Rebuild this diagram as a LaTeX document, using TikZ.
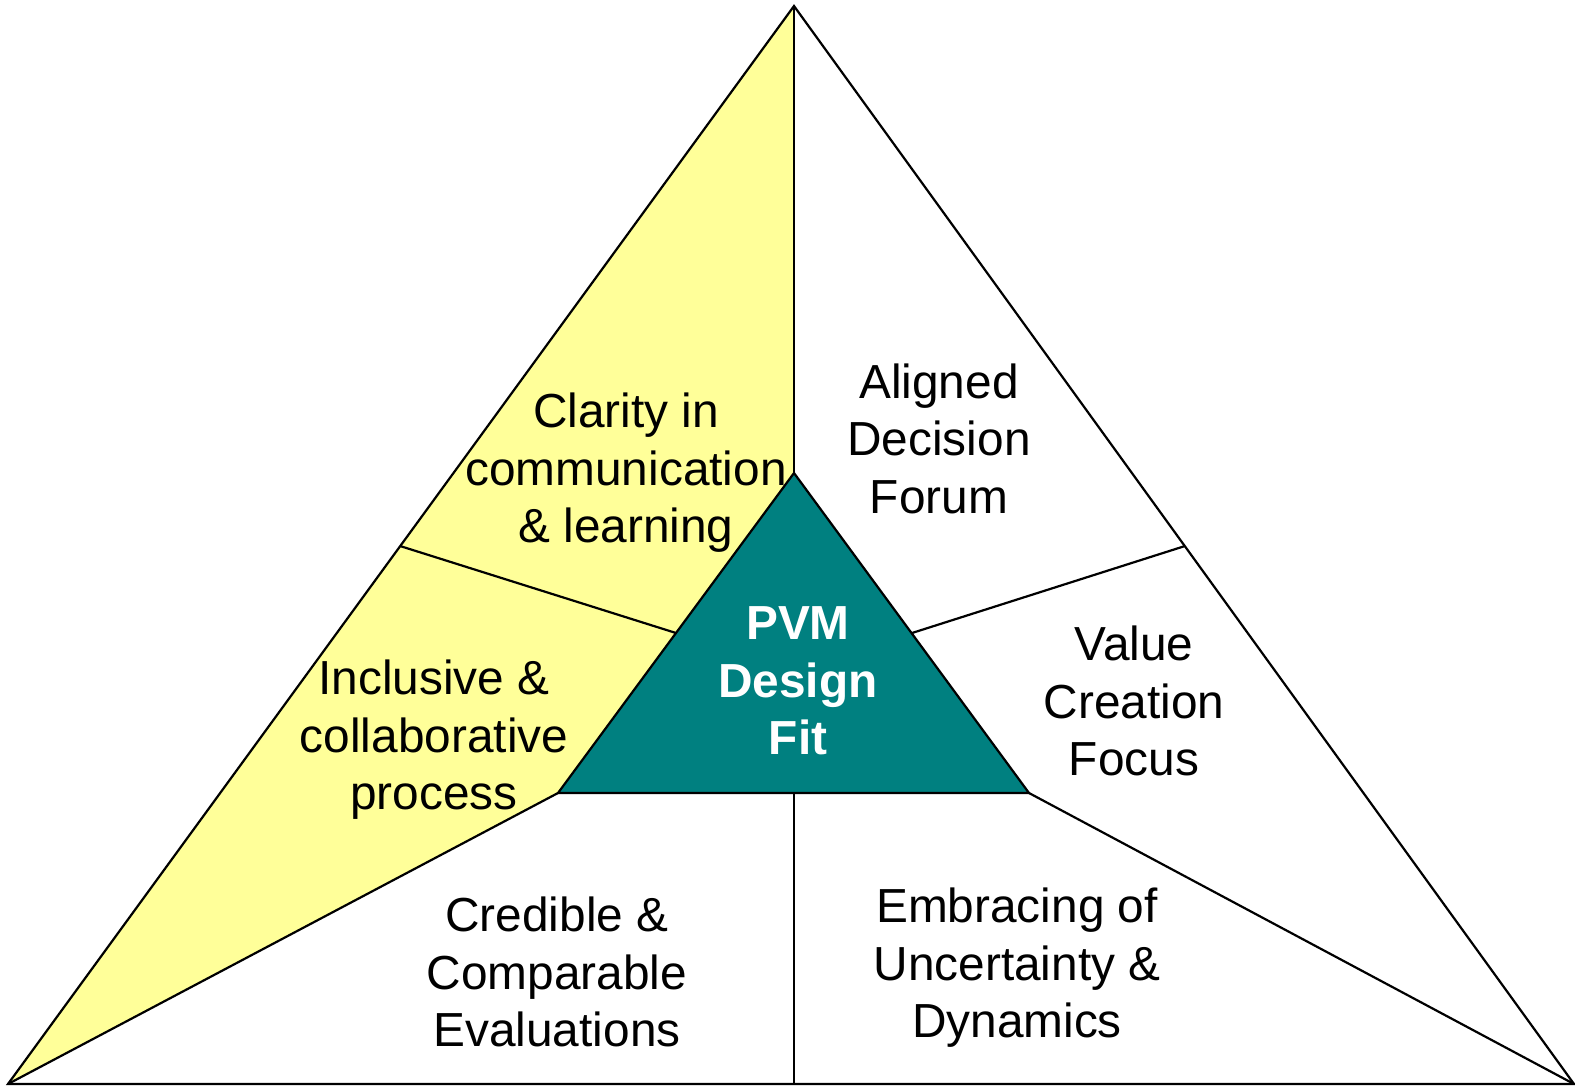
\documentclass[tikz,border=0pt]{standalone}
\usepackage{fontspec}
\setmainfont{Liberation Sans}
\definecolor{pvmyellow}{HTML}{FFFF99}
\definecolor{pvmteal}{HTML}{008080}
\begin{document}
\begin{tikzpicture}[x=1pt,y=-1pt,
  edge/.style={draw=black, line width=2.2pt, line join=miter},
  lab/.style={align=center, inner sep=0pt, font=\fontsize{47.8}{57.5}\selectfont},
  core/.style={align=center, inner sep=0pt, text=white, font=\fontsize{47.8}{57.5}\selectfont\bfseries}]
\useasboundingbox (0,0) rectangle (1575,1087);
% vertices
\coordinate (A) at (794,6);
\coordinate (BL) at (8,1084);
\coordinate (BR) at (1574,1084);
\coordinate (ia) at (794,473);
\coordinate (ibl) at (558,793);
\coordinate (ibr) at (1029,793);
\coordinate (ib) at (794,793);
\coordinate (ob) at (794,1084);
\coordinate (l1) at (400,546);
\coordinate (l2) at (676,633);
\coordinate (r1) at (1185,546);
\coordinate (r2) at (912,633);
% fills
\fill[pvmyellow] (A) -- (ia) -- (ibl) -- (BL) -- cycle;
\fill[pvmteal] (ia) -- (ibl) -- (ibr) -- cycle;
% lines
\draw[edge] (A) -- (BL) -- (BR) -- cycle;
\draw[edge] (ia) -- (ibl) -- (ibr) -- cycle;
\draw[edge] (A) -- (ia);
\draw[edge] (ib) -- (ob);
\draw[edge] (ibl) -- (BL);
\draw[edge] (ibr) -- (BR);
\draw[edge] (l1) -- (l2);
\draw[edge] (r1) -- (r2);
% labels
\node[lab] (clarity) at (626,473.5) {\strut Clarity in\\\strut communication\\\strut \& learning};
\node[lab] (aligned) at (939,444) {\strut Aligned\\\strut Decision\\\strut Forum};
\node[lab] (inclusive) at (434,740.5) {\strut Inclusive \&\\\strut collaborative\\\strut process};
\node[lab] (value) at (1134,706.5) {\strut Value\\\strut Creation\\\strut Focus};
\node[lab] (credible) at (557,977.5) {\strut Credible \&\\\strut Comparable\\\strut Evaluations};
\node[lab] (embracing) at (1017,968.5) {\strut Embracing of\\\strut Uncertainty \&\\\strut Dynamics};
\node[core] (pvm) at (798,685.5) {\strut PVM\\\strut Design\\\strut Fit};
\end{tikzpicture}
\end{document}
